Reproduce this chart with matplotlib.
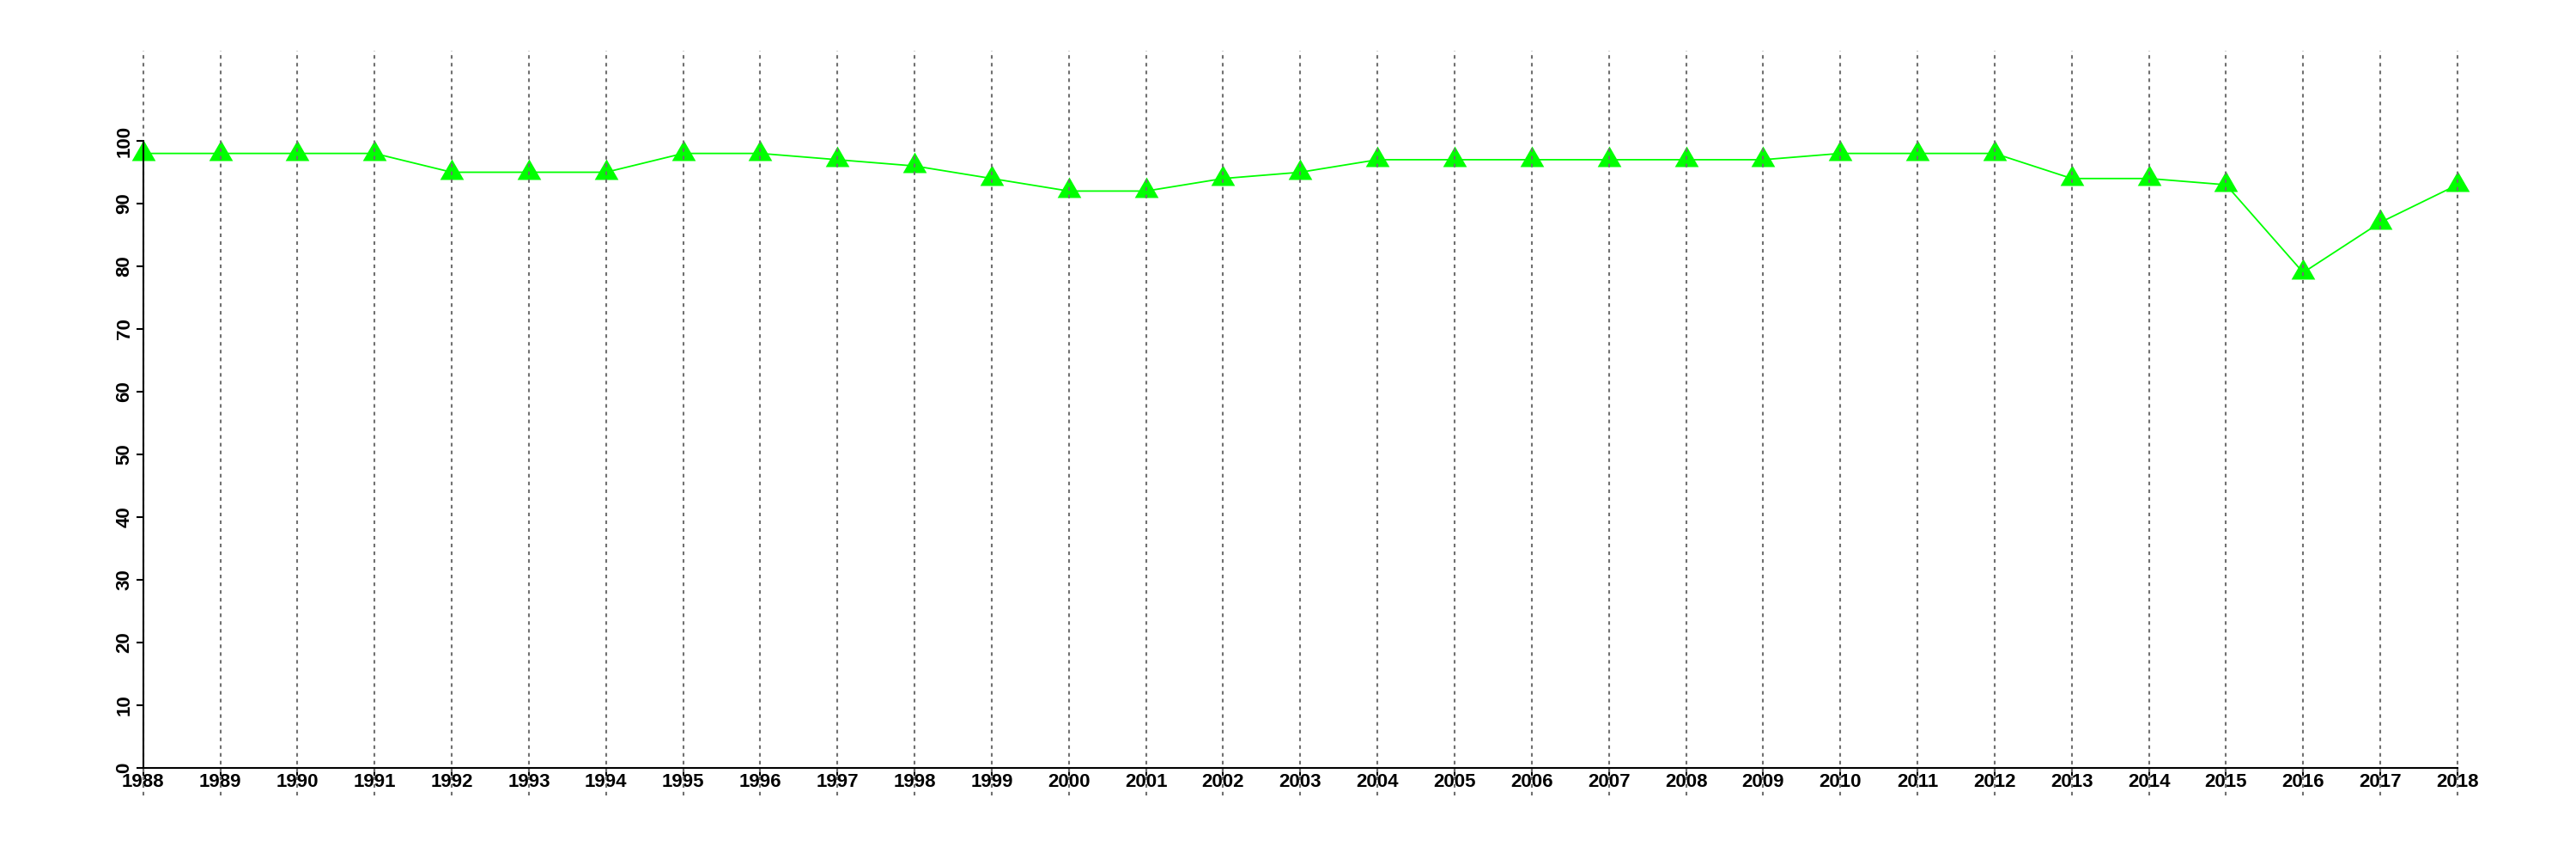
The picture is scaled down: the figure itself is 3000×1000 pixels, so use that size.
import matplotlib
matplotlib.use("Agg")
import matplotlib.pyplot as plt

# yearly values
years = list(range(1988, 2019))
values = [98, 98, 98, 98, 95, 95, 95, 98, 98, 97, 96, 94, 92, 92, 94, 95,
          97, 97, 97, 97, 97, 97, 98, 98, 98, 94, 94, 93, 79, 87, 93]
y_ticks = list(range(0, 101, 10))

plt.rcParams['font.family'] = ['Liberation Sans', 'DejaVu Sans']
plt.rcParams['lines.scale_dashes'] = False

fig = plt.figure(figsize=(30, 10), dpi=100)
ax = fig.add_axes([0.01963, 0.0739, 0.97030, 0.8672])

# R-like equilateral triangle (pch 17), centroid on the point
tri = [(0, 1), (-0.866, -0.5), (0.866, -0.5)]
ax.plot(years, values, color='#00ff00', linewidth=1.3, zorder=2)
ax.plot(years, values, linestyle='none', marker=tri, markersize=23,
        markerfacecolor='#00ff00', markeredgewidth=0, zorder=2)

# dotted vertical guides across the whole plot region, over the marks
for yr in years:
    ax.axvline(yr, color='#707070', linewidth=1.5, linestyle=(0, (3.0, 3.5)),
               zorder=3)

ax.set_xlim(1986.8, 2019.2)
ax.set_ylim(-4.4, 114.4)

for side in ['top', 'right']:
    ax.spines[side].set_visible(False)
ax.spines['left'].set_position(('data', 1988))
ax.spines['bottom'].set_position(('data', 0))
ax.spines['left'].set_bounds(0, 100)
ax.spines['bottom'].set_bounds(1988, 2018)
for side in ['left', 'bottom']:
    ax.spines[side].set_linewidth(1.5)
    ax.spines[side].set_zorder(5)

ax.set_xticks(years)
ax.set_xticklabels([str(y) for y in years], fontsize=16, fontweight='bold')
ax.set_yticks(y_ticks)
ax.set_yticklabels([str(v) for v in y_ticks], fontsize=16, fontweight='bold',
                   rotation=90, va='center')
ax.tick_params(axis='x', length=6.5, width=1.5, pad=-2)
ax.tick_params(axis='y', length=6, width=1.5, pad=2)

fig.savefig('out.png', dpi=100, facecolor='white')
